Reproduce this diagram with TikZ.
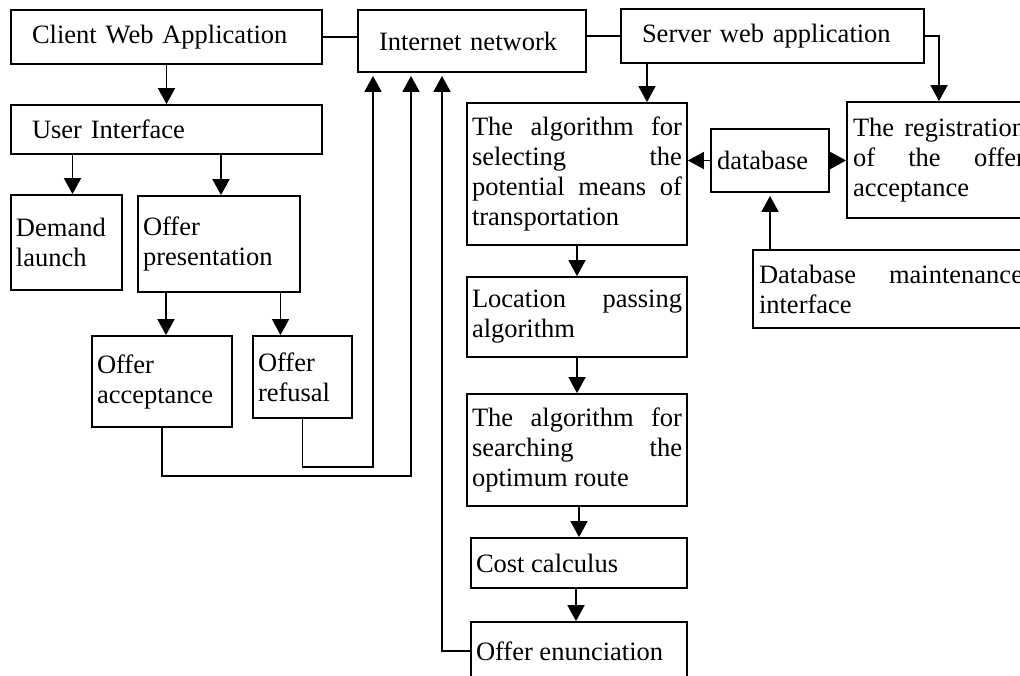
\documentclass[tikz,border=0pt]{standalone}
\usepackage{fontspec}
\setmainfont{Liberation Serif}
\usetikzlibrary{arrows.meta,calc}
\tikzstyle{box} = [draw, line width=1.8pt, inner xsep=5pt, inner ysep=0pt, align=justify, font={\fontsize{26.5}{30}\selectfont}]
\tikzstyle{onebox} = [box, inner xsep=21pt, align=left]
\tikzstyle{arrow} = [line width=1.8pt, -{Triangle[width=17pt,length=16pt]}]
\tikzstyle{link} = [line width=1.8pt]

\begin{document}
\hyphenpenalty=10000 \tolerance=10000 \hbadness=10000
\begin{tikzpicture}[x=1pt, y=-1pt]
    \useasboundingbox (0,0) rectangle (1020,675);
    \clip (0,0) rectangle (1020,675);

    % client side
    \node[onebox, text width=269pt, minimum height=54pt] (client) at (166.5,37) {Client Web Application};
    \node[onebox, text width=269pt, minimum height=49pt] (ui) at (166.5,129.5) {User Interface};
    \node[box, text width=101pt, minimum height=95pt] (demand) at (66.5,242.5) {Demand launch};
    \node[box, text width=152pt, minimum height=96pt] (pres) at (219,244) {Offer presentation};
    \node[box, text width=130pt, minimum height=91pt] (acc) at (162,381.5) {Offer acceptance};
    \node[box, text width=89pt, minimum height=82pt] (ref) at (302.5,377) {Offer refusal};

    % network and server side
    \node[onebox, text width=186pt, minimum height=62pt] (internet) at (472,41) {Internet network};
    \node[onebox, text width=261pt, minimum height=54pt] (server) at (772.5,36) {Server web application};
    \node[box, text width=210pt, minimum height=142pt] (algo) at (577,174) {The algorithm for\linebreak selecting the\linebreak potential means of transportation};
    \node[box, text width=210pt, minimum height=80pt] (loc) at (577,317) {Location passing algorithm};
    \node[box, text width=210pt, minimum height=112pt] (search) at (577,450) {The algorithm for\linebreak searching the\linebreak optimum route};
    \node[box, text width=206pt, minimum height=50pt] (cost) at (579,563) {Cost calculus};
    \node[box, text width=206pt, minimum height=58pt] (enun) at (579,651) {Offer enunciation};
    \node[box, inner xsep=6pt, align=left, text width=106pt, minimum height=63pt] (db) at (770,160.5) {database};
    \node[box, inner xsep=6pt, text width=172pt, minimum height=116pt] (reg) at (939,160) {The registration of the offer acceptance};
    \node[box, inner xsep=6pt, text width=264pt, minimum height=78pt] (dbm) at (891,289) {Database maintenance interface};

    \draw[link] (client.east) -- (client.east -| internet.west);
    \draw[link] (server.west) -- (server.west -| internet.east);
    \draw[arrow] (client) -- (ui);
    \draw[arrow] ($(ui.south -| demand.north)+(6,0)$) -- ($(demand.north)+(6,0)$);
    \draw[arrow] ($(ui.south -| pres.north)+(2,0)$) -- ($(pres.north)+(2,0)$);
    \draw[arrow] ($(pres.south -| acc.north)+(4,0)$) -- ($(acc.north)+(4,0)$);
    \draw[arrow] ($(pres.south -| ref.north)+(-22,0)$) -- ($(ref.north)+(-22,0)$);
    \draw[arrow, shorten >=3pt] (acc.south) -- ++(0,48) -| ($(internet.south)+(-61,0)$);
    \draw[arrow, shorten >=3pt] (ref.south) -- ++(0,48) -| ($(internet.south)+(-99,0)$);
    \draw[arrow, shorten >=3pt] (enun.west) -| ($(internet.south)+(-30,0)$);

    \draw[arrow] ($(server.south -| algo.north)+(70,0)$) -- ($(algo.north)+(70,0)$);
    \draw[arrow] (server.east) -| (reg.north);
    \draw[arrow] (algo) -- (loc);
    \draw[arrow] (loc) -- (search);
    \draw[arrow] (search.south -| cost.north) -- (cost.north);
    \draw[arrow] ($(cost.south)+(-3,0)$) -- ($(enun.north)+(-3,0)$);
    \draw[arrow] (db.west) -- (db.west -| algo.east);
    \draw[arrow] (db.east) -- (db.east -| reg.west);
    \draw[arrow, shorten >=3pt] (dbm.north -| db.south) -- (db.south);
\end{tikzpicture}
\end{document}
